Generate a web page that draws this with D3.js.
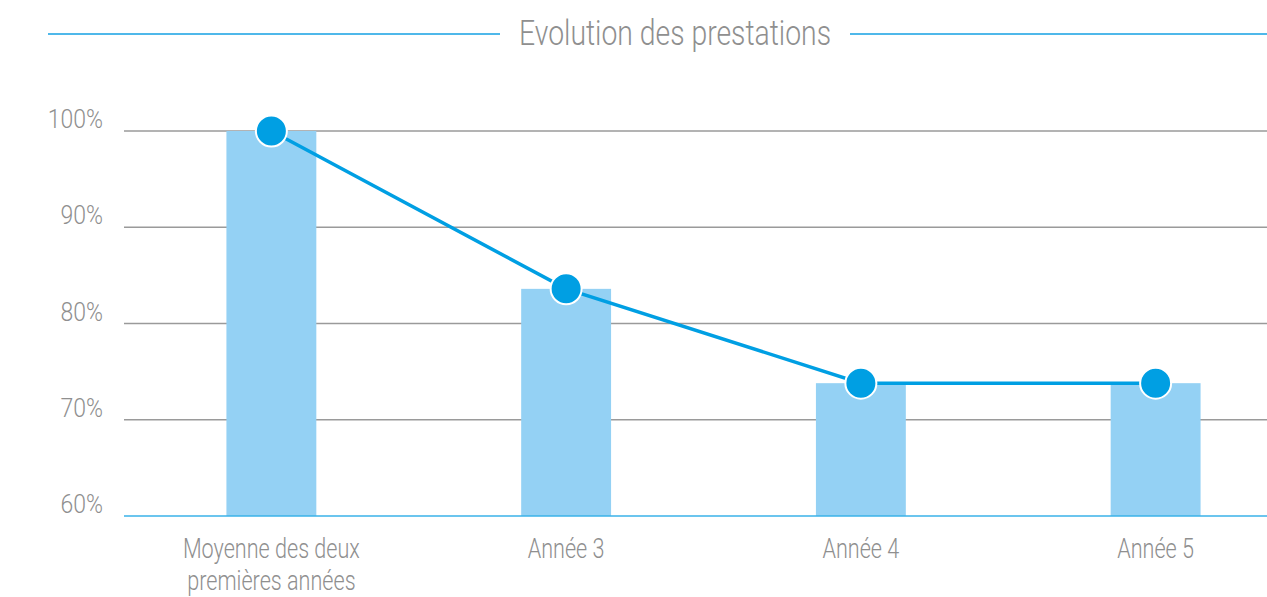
<!DOCTYPE html>
<html>
<head>
<meta charset="utf-8">
<script src="https://cdn.jsdelivr.net/npm/d3@7"></script>
<style>
  body { margin: 0; background: #fff; }
  text { font-family: Roboto, "Open Sans", sans-serif; font-weight: 300; }
</style>
</head>
<body>
<div id="chart"></div>
<script>
// chart data
var categories = [["Moyenne des deux", "premières années"], ["Année 3"], ["Année 4"], ["Année 5"]];
var values = [100, 83.6, 73.8, 73.8];
var yTicks = [60, 70, 80, 90, 100];
var title = "Evolution des prestations";

var W = 1267, H = 597;
var margin = {top: 131, left: 124, bottom: 81};

var svg = d3.select("#chart").append("svg")
    .attr("width", W)
    .attr("height", H);

var x = d3.scaleBand()
    .domain(d3.range(categories.length))
    .range([margin.left, 1303])
    .paddingInner(0.695)
    .paddingOuter(0.3475);

var y = d3.scaleLinear()
    .domain([60, 100])
    .range([H - margin.bottom, margin.top]);

// helper for condensed-looking text
function ctext(g, tx, ty, str, size, sx, anchor) {
    return g.append("g")
        .attr("transform", "translate(" + tx + "," + ty + ") scale(" + sx + ",1)")
        .append("text")
        .attr("text-anchor", anchor)
        .style("font-size", size + "px")
        .style("fill", "#8f8f8f")
        .text(str);
}

// title with rules on each side
svg.append("line")
    .attr("x1", 48).attr("x2", 500)
    .attr("y1", 34).attr("y2", 34)
    .style("stroke", "#4fb8ea").style("stroke-width", 2);
svg.append("line")
    .attr("x1", 850).attr("x2", W)
    .attr("y1", 34).attr("y2", 34)
    .style("stroke", "#4fb8ea").style("stroke-width", 2);
ctext(svg, 675, 45, title, 35, 0.81, "middle");

// gridlines
svg.selectAll(".grid")
    .data(yTicks.slice(1))
    .enter().append("line")
    .attr("class", "grid")
    .attr("x1", margin.left).attr("x2", W)
    .attr("y1", function(d) { return y(d); })
    .attr("y2", function(d) { return y(d); })
    .style("stroke", "#9a9a9a")
    .style("stroke-width", 1.3);

// y labels
yTicks.forEach(function(t) {
    ctext(svg, 103, y(t) - 3, t + "%", 25, 0.92, "end");
});

// bars
svg.selectAll(".bar")
    .data(values)
    .enter().append("rect")
    .attr("class", "bar")
    .attr("x", function(d, i) { return x(i); })
    .attr("width", x.bandwidth())
    .attr("y", function(d) { return y(d); })
    .attr("height", function(d) { return y(60) - y(d); })
    .style("fill", "#94d1f4");

// baseline
svg.append("line")
    .attr("x1", margin.left).attr("x2", W)
    .attr("y1", y(60)).attr("y2", y(60))
    .style("stroke", "#3ab2e8")
    .style("stroke-width", 1.5);

// x labels
categories.forEach(function(lines, i) {
    var cx = x(i) + x.bandwidth() / 2;
    lines.forEach(function(l, j) {
        ctext(svg, cx, 558 + j * 32, l, 27, 0.8, "middle");
    });
});

// line + markers
var line = d3.line()
    .x(function(d, i) { return x(i) + x.bandwidth() / 2; })
    .y(function(d) { return y(d); });

svg.append("path")
    .datum(values)
    .attr("d", line)
    .style("fill", "none")
    .style("stroke", "#009fe3")
    .style("stroke-width", 3.5);

svg.selectAll(".dot")
    .data(values)
    .enter().append("circle")
    .attr("class", "dot")
    .attr("cx", function(d, i) { return x(i) + x.bandwidth() / 2; })
    .attr("cy", function(d) { return y(d); })
    .attr("r", 15.5)
    .style("fill", "#009fe3")
    .style("stroke", "#fff")
    .style("stroke-width", 2);
</script>
</body>
</html>
